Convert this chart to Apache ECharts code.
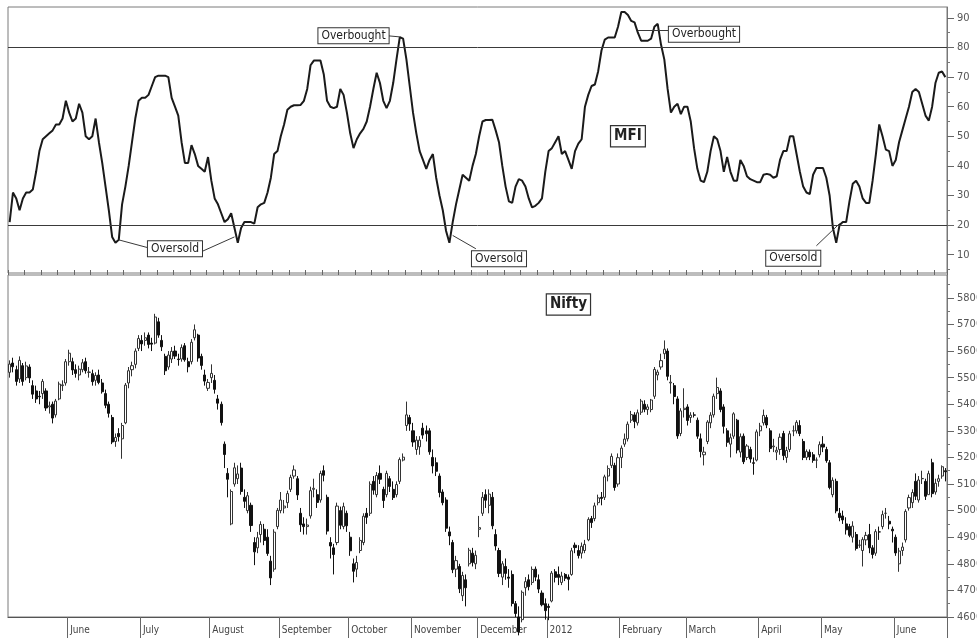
<!DOCTYPE html>
<html>
<head>
<meta charset="utf-8">
<script src="https://cdn.jsdelivr.net/npm/echarts@6/dist/echarts.min.js"></script>
<style>
html,body{margin:0;padding:0;background:#fff;}
#chart{width:977px;height:643px;}
</style>
</head>
<body>
<div id="chart"></div>
<script>
// ---- month layout of the trading-day axis ----
const monthKeys = ['2011-05','2011-06','2011-07','2011-08','2011-09','2011-10','2011-11','2011-12','2012-01','2012-02','2012-03','2012-04','2012-05','2012-06'];
const monthLabels = ['May','June','July','August','September','October','November','December','2012','February','March','April','May','June'];
const monthDays = [18,22,21,21,21,19,20,21,22,20,22,19,22,16];

// ---- tick labels ----
const mfiTicks = [10,20,30,40,50,60,70,80,90];
const mfiMinorTicks = [5,15,25,35,45,55,65,75,85];
const niftyTicks = [4600,4700,4800,4900,5000,5100,5200,5300,5400,5500,5600,5700,5800];
const niftyMinorTicks = [4650,4750,4850,4950,5050,5150,5250,5350,5450,5550,5650,5750,5850];
const mfiLevels = [80, 20];

// ---- Nifty daily OHLC ----
const niftyOpen = [
5520,5555,5530,5495,5545,5500,5540,5470,5450,5430,5440,5450,5390,5400,5360,5420,5470,5480,
5560,5560,5530,5510,5530,5560,5520,5515,5490,5510,5480,5440,5400,5350,5260,5290,5270,5330,5480,5530,5550,5610,
5640,5640,5660,5630,5630,5710,5640,5580,5540,5570,5600,5570,5570,5620,5560,5560,5650,5660,5580,5510,5460,
5500,5490,5420,5400,5250,5140,4950,5100,5120,5160,5050,5000,5020,4880,4860,4910,4930,4900,4810,4780,4940,
5000,5010,5030,5080,5130,5120,4990,4950,4940,4980,5080,5060,5040,5150,5050,4880,4860,4880,5000,4940,4990,
4900,4800,4780,4850,4880,4990,4990,5110,5060,5140,5080,5060,5120,5080,5060,5110,5190,5320,5350,
5300,5230,5240,5310,5300,5300,5200,5180,5130,5070,5040,4920,4880,4780,4790,4680,4740,4800,4840,4800,
4930,4990,5060,5020,5050,4910,4850,4750,4790,4750,4760,4650,4600,4590,4710,4740,4730,4780,4740,4690,4650,
4640,4660,4770,4760,4730,4760,4750,4760,4870,4850,4840,4850,4890,4970,4970,5030,5050,5050,5130,5170,5170,5100,
5200,5250,5270,5340,5360,5330,5370,5400,5380,5380,5430,5510,5540,5590,5600,5480,5470,5420,5290,5380,
5390,5350,5360,5340,5270,5210,5260,5330,5360,5440,5450,5390,5300,5250,5280,5340,5220,5280,5200,5230,5180,5190,
5300,5330,5350,5300,5240,5220,5230,5290,5200,5230,5300,5300,5320,5260,5200,5220,5210,5190,5210,
5250,5230,5180,5060,5110,4990,4980,4950,4940,4900,4910,4870,4850,4890,4910,4860,4840,4920,4940,4990,4960,4930,
4900,4800,4850,4890,5010,5030,5110,5040,5120,5110,5060,5180,5070,5110,5130,5150];
const niftyClose = [
5551,5541,5486,5565,5486,5544,5499,5438,5420,5428,5486,5386,5394,5348,5412,5476,5473,5560,
5592,5529,5516,5532,5556,5526,5521,5485,5508,5482,5447,5396,5366,5258,5275,5278,5320,5472,5526,5545,5600,5647,
5627,5650,5625,5626,5728,5660,5616,5526,5585,5599,5581,5568,5613,5567,5541,5633,5680,5574,5546,5487,5482,
5516,5456,5404,5331,5211,5118,5072,5161,5138,5072,5035,5056,4944,4845,4898,4948,4888,4839,4747,4919,5001,
5040,5017,5064,5125,5153,5059,4947,4940,4946,5075,5084,5031,5140,5133,4923,4867,4835,5017,4945,5015,4943,
4849,4772,4805,4888,4979,4975,5099,5077,5132,5118,5038,5140,5091,5049,5098,5192,5201,5360,5326,
5258,5265,5265,5284,5289,5221,5168,5148,5068,5030,4934,4905,4778,4812,4706,4756,4710,4851,4805,4832,
4936,5050,5039,5062,4943,4867,4764,4800,4764,4746,4651,4613,4544,4693,4733,4714,4779,4750,4705,4646,4624,
4636,4765,4749,4749,4754,4746,4742,4849,4861,4831,4866,4873,4967,4955,5018,5048,5046,5127,5158,5204,5087,5199,
5235,5269,5325,5361,5335,5368,5412,5381,5390,5416,5531,5521,5564,5607,5505,5483,5429,5281,5375,5385,
5339,5359,5359,5280,5222,5220,5333,5359,5430,5463,5380,5317,5257,5274,5364,5228,5278,5184,5243,5194,5178,5296,
5318,5358,5322,5234,5243,5227,5276,5207,5226,5289,5300,5332,5290,5200,5222,5202,5189,5190,5248,
5239,5188,5087,5114,4999,4974,4965,4928,4907,4942,4858,4870,4891,4907,4860,4835,4921,4920,4985,4990,4950,4924,
4841,4848,4863,4997,5049,5068,5054,5115,5121,5054,5139,5064,5103,5120,5165,5146];
const niftyLow = [
5500,5520,5470,5480,5470,5490,5480,5420,5405,5400,5420,5375,5365,5328,5350,5415,5450,5470,
5545,5510,5500,5490,5520,5515,5500,5470,5470,5475,5440,5385,5350,5250,5240,5260,5195,5325,5460,5505,5535,5600,
5600,5620,5610,5600,5625,5650,5600,5510,5530,5555,5570,5545,5560,5560,5520,5550,5640,5560,5530,5470,5450,
5480,5440,5380,5320,5160,5050,4945,5090,5100,5060,5010,4990,4920,4795,4840,4880,4870,4830,4720,4770,4930,
4990,4990,5010,5070,5120,5040,4920,4910,4910,4970,5050,5010,5030,5110,4910,4820,4760,4870,4930,4930,4920,
4830,4730,4750,4840,4870,4950,4980,5060,5050,5100,5010,5050,5070,5040,5050,5100,5185,5300,5300,
5240,5210,5210,5270,5260,5210,5140,5130,5050,5020,4920,4870,4765,4750,4690,4660,4640,4790,4790,4780,
4900,4980,5010,4990,4930,4850,4750,4720,4740,4710,4640,4600,4531,4580,4680,4700,4720,4735,4690,4640,4590,
4588,4655,4730,4720,4720,4735,4700,4755,4840,4820,4820,4840,4885,4935,4960,5020,5020,5040,5110,5160,5075,5090,
5160,5240,5260,5330,5310,5320,5360,5370,5360,5370,5420,5490,5530,5570,5490,5440,5400,5270,5280,5350,
5320,5330,5350,5270,5200,5170,5250,5310,5350,5420,5370,5290,5240,5200,5270,5215,5200,5175,5190,5180,5135,5185,
5280,5320,5310,5220,5220,5190,5210,5190,5180,5220,5280,5290,5280,5190,5190,5190,5180,5160,5200,
5220,5180,5080,5050,4990,4960,4950,4910,4900,4880,4850,4860,4790,4870,4840,4820,4830,4890,4930,4970,4930,4880,
4830,4770,4830,4880,5000,5010,5040,5030,5100,5040,5060,5050,5060,5090,5120,5110];
const niftyHigh = [
5565,5575,5545,5580,5555,5560,5550,5490,5470,5450,5495,5460,5410,5410,5420,5485,5490,5570,
5605,5575,5550,5545,5570,5575,5540,5530,5520,5530,5495,5455,5410,5360,5290,5310,5330,5480,5540,5560,5610,5660,
5660,5670,5670,5650,5740,5725,5660,5590,5600,5615,5620,5590,5625,5630,5575,5645,5700,5665,5590,5530,5495,
5550,5510,5435,5410,5260,5160,5080,5180,5170,5180,5080,5070,5030,4900,4920,4960,4950,4930,4830,4930,5010,
5070,5040,5075,5135,5170,5130,5010,4975,4970,5090,5120,5080,5150,5170,5060,4900,4875,5030,5015,5030,5000,
4920,4820,4830,4900,4990,5010,5110,5130,5145,5170,5090,5150,5130,5110,5110,5200,5215,5410,5360,
5330,5280,5280,5330,5320,5310,5230,5200,5140,5080,5050,4940,4890,4830,4800,4770,4760,4860,4860,4850,
4980,5070,5080,5080,5070,4930,4860,4810,4820,4780,4775,4660,4640,4700,4750,4760,4790,4790,4760,4700,4670,
4650,4773,4780,4790,4770,4765,4760,4860,4880,4870,4880,4890,4975,4980,5030,5060,5070,5135,5170,5215,5180,5215,
5245,5290,5335,5375,5370,5380,5420,5415,5400,5420,5540,5530,5590,5640,5610,5510,5480,5430,5385,5460,
5400,5370,5370,5350,5290,5240,5340,5370,5440,5500,5460,5400,5310,5290,5370,5345,5290,5290,5250,5240,5200,5305,
5330,5380,5360,5310,5270,5240,5290,5300,5240,5300,5320,5340,5340,5270,5230,5230,5220,5200,5260,
5280,5240,5190,5125,5120,5010,5000,4975,4950,4960,4920,4890,4900,4920,4950,4870,4930,4940,5000,5010,4980,4940,
4910,4860,4880,5005,5060,5080,5140,5130,5150,5120,5150,5195,5120,5135,5170,5160];

// ---- MFI daily values ----
const mfiValues = [
21,31,29,25,29,31,31,32,38,45,
49,50,51,52,54,54,56,62,58,55,
56,61,58,50,49,50,56,48,41,33,
25,16,14,15,27,33,40,48,56,62,
63,63,64,67,70,70.5,70.5,70.5,70,63,
60,57,48,41,41,47,44,40,39,38,
43,35,29,27,24,21,22,24,19,14,
19,21,21,21,20.5,26,27,27.5,31,36,
44,45,50,54,59,60,60.5,60.5,60.6,62,
66,74,75.6,75.6,75.6,71,62,60,59.5,60,
66,64,58,51,46,49,51,52.5,55,60,
66,71.5,68,62,59.5,62,68,76,83.5,83,
76,67,58,51,45,42,39,42,44,36,
30,25,18,14,21,27,32,37,36,35,
40,44,50,55,55.5,55.5,55.6,52,48,40,
33,28,27.5,33,35.5,35,33,29,26,26.5,
27.5,29,38,45,46,48,50,44,45,42,
39,45,47.5,49,60,64,67,67.5,72,79,
82.7,83.4,83.4,83.4,87,92,92,91,89,88.5,
85,82.3,82.3,82.3,83,87,88,81,76,66,
58,60,61,57.5,60,60,55,46,39,35,
34.5,38,45,50,49,45,38,43,38,35,
35,42,40,36.5,35.5,35,34.5,34.5,37,37.3,
37,36,36.5,42,45,45,50,50,44,38,
33,31,30.5,37,39.3,39.3,39.3,36,30,19,
14,20,21,21,28,34,35,33,29,27.5,
27.5,35,44,54,50,45.5,45,40,42,48,
52,56,60,65,66,65,61,57,55.3,60,
68,71.5,71.9,70];

// ---- annotation texts ----
const obText = 'Overbought';
const osText = 'Oversold';

const n = mfiValues.length;
[niftyOpen, niftyClose, niftyLow, niftyHigh].forEach((a, k) => {
  if (a.length !== n) throw new Error('length mismatch ' + k + ': ' + a.length + ' vs ' + n);
});

const categories = [];
const monthStart = {};
monthKeys.forEach((k, m) => {
  for (let d = 1; d <= monthDays[m]; d++) {
    if (d === 1) monthStart[categories.length] = monthLabels[m];
    categories.push(k + '-' + d);
  }
});
if (categories.length !== n) throw new Error('categories ' + categories.length + ' vs ' + n);

const candleData = niftyOpen.map((o, i) => [o, niftyClose[i], niftyLow[i], niftyHigh[i]]);

const FONT = "'Liberation Sans Narrow', 'DejaVu Sans Condensed', 'Liberation Sans', sans-serif";
const boxLabel = {
  show: true, position: 'inside', formatter: '{b}',
  fontFamily: FONT, fontSize: 12, color: '#222',
  backgroundColor: '#fff', borderColor: '#333', borderWidth: 1, padding: [2, 3, 1, 3]
};
const titleLabel = Object.assign({}, boxLabel, {fontWeight: 'bold', fontSize: 15, padding: [3, 3, 2, 3], borderWidth: 1.2});
const noSym = {color: 'rgba(0,0,0,0)'};
const plain = (v) => String(v);

const chart = echarts.init(document.getElementById('chart'), null, {renderer: 'canvas'});
chart.setOption({
  animation: false,
  backgroundColor: '#fff',
  grid: [
    {left: 8, right: 30, top: 7, height: 266, show: true, containLabel: false, outerBoundsMode: 'none',
      borderColor: '#7a7a7a', borderWidth: 1, backgroundColor: '#fff'},
    {left: 8, right: 30, top: 275, height: 342, show: true, containLabel: false, outerBoundsMode: 'none',
      borderColor: '#7a7a7a', borderWidth: 1, backgroundColor: '#fff'}
  ],
  xAxis: [
    {type: 'category', gridIndex: 0, data: categories, show: false, boundaryGap: true},
    {type: 'category', gridIndex: 1, data: categories, boundaryGap: true,
      axisLine: {show: true, lineStyle: {color: '#555', width: 1.2}},
      axisTick: {show: true, length: 21, lineStyle: {color: '#666'}, interval: (i) => (i in monthStart) && i > 0},
      axisLabel: {show: true, interval: (i) => (i in monthStart) && i > 0, formatter: (v, i) => monthStart[i] || '',
        align: 'left', margin: 8, fontFamily: FONT, fontSize: 10, color: '#444', padding: [0, 0, 0, 1]}
    },
    {type: 'category', gridIndex: 1, data: categories, boundaryGap: true,
      axisLine: {show: false},
      axisTick: {show: true, length: 5, lineStyle: {color: '#666'}, interval: (i) => i % 5 === 0},
      axisLabel: {show: false}
    }
  ],
  yAxis: [
    {type: 'value', gridIndex: 0, position: 'right', min: 3.8, max: 93.7,
      axisLine: {show: true, lineStyle: {color: '#777'}},
      axisTick: {show: true, length: 7, customValues: mfiTicks, lineStyle: {color: '#666'}},
      axisLabel: {show: true, customValues: mfiTicks, formatter: plain, margin: 10, fontFamily: FONT, fontSize: 11, color: '#555'},
      splitLine: {show: false}},
    {type: 'value', gridIndex: 0, position: 'right', min: 3.8, max: 93.7,
      axisLine: {show: false},
      axisTick: {show: true, length: 3, customValues: mfiMinorTicks, lineStyle: {color: '#777'}},
      axisLabel: {show: false}, splitLine: {show: false}},
    {type: 'value', gridIndex: 1, position: 'right', min: 4600, max: 5886,
      axisLine: {show: true, lineStyle: {color: '#777'}},
      axisTick: {show: true, length: 7, customValues: niftyTicks, lineStyle: {color: '#666'}},
      axisLabel: {show: true, customValues: niftyTicks, formatter: plain, margin: 10, fontFamily: FONT, fontSize: 11, color: '#555'},
      splitLine: {show: false}},
    {type: 'value', gridIndex: 1, position: 'right', min: 4600, max: 5886,
      axisLine: {show: false},
      axisTick: {show: true, length: 3, customValues: niftyMinorTicks, lineStyle: {color: '#777'}},
      axisLabel: {show: false}, splitLine: {show: false}}
  ],
  series: [
    {
      name: 'MFI', type: 'line', xAxisIndex: 0, yAxisIndex: 0, data: mfiValues,
      showSymbol: false, symbol: 'none', z: 3,
      lineStyle: {color: '#1a1a1a', width: 2},
      markLine: {
        silent: true, symbol: ['none', 'none'], label: {show: false},
        lineStyle: {color: '#3a3a3a', width: 1, type: 'solid'},
        data: [
          {yAxis: mfiLevels[0]}, {yAxis: mfiLevels[1]},
          [{coord: [114, 84]}, {coord: [118, 83.6]}],
          [{coord: [190, 85.8]}, {coord: [200, 85.8]}],
          [{coord: [33, 15]}, {coord: [43, 12]}],
          [{coord: [58, 11]}, {coord: [68, 16]}],
          [{coord: [134, 16.5]}, {coord: [141, 12]}],
          [{coord: [244, 13]}, {coord: [251, 20.5]}]
        ]
      },
      markPoint: {
        silent: true, symbol: 'circle', symbolSize: 1, itemStyle: noSym,
        label: boxLabel,
        data: [
          {name: obText, coord: [104, 84]},
          {name: obText, coord: [210, 84.5]},
          {name: osText, coord: [50, 12]},
          {name: osText, coord: [148, 8.6]},
          {name: osText, coord: [237, 8.8]},
          {name: 'MFI', coord: [187, 50], label: titleLabel}
        ]
      }
    },
    {
      name: 'Nifty', type: 'candlestick', xAxisIndex: 1, yAxisIndex: 2, data: candleData,
      clip: false, barWidth: '78%',
      itemStyle: {color: '#ffffff', color0: '#111111', borderColor: '#333333', borderColor0: '#111111', borderWidth: 1},
      markPoint: {
        silent: true, symbol: 'circle', symbolSize: 1, itemStyle: noSym,
        label: titleLabel,
        data: [{name: 'Nifty', coord: [169, 5775]}]
      }
    }
  ]
});
</script>
</body>
</html>
